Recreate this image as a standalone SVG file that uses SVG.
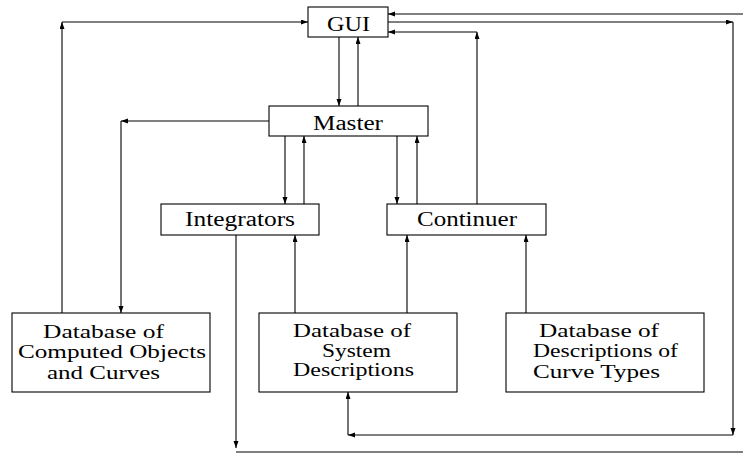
<svg xmlns="http://www.w3.org/2000/svg" width="743" height="454" viewBox="0 0 743 454">
  <defs>
    <marker id="arrow" markerUnits="userSpaceOnUse" markerWidth="8" markerHeight="6" refX="7" refY="2.5" orient="auto">
      <path d="M0,0 L7,2.5 L0,5 z" fill="#000"/>
    </marker>
  </defs>
  <style>
    rect.box { fill: #fff; stroke: #000; stroke-width: 1.1; }
    text { font-family: "Liberation Serif", "Times New Roman", serif; font-size: 20.5px; fill: #000; }
    text.db { font-size: 19px; }
    .conn line, .conn path { stroke: #000; stroke-width: 1.1; fill: none; }
    .arr { marker-end: url(#arrow); }
  </style>

  <rect width="743" height="454" fill="#fff"/>

  <!-- connectors -->
  <g id="connectors" class="conn">
    <!-- GUI / Master -->
    <line class="arr" x1="339" y1="37" x2="339" y2="106"/>
    <line class="arr" x1="358" y1="106" x2="358" y2="37"/>
    <!-- Master to computed objects database -->
    <line class="arr" x1="269" y1="121" x2="121" y2="121"/>
    <line class="arr" x1="121" y1="121" x2="121" y2="313"/>
    <!-- computed objects database to GUI -->
    <line class="arr" x1="62" y1="313" x2="62" y2="22"/>
    <line class="arr" x1="62" y1="22" x2="308" y2="22"/>
    <!-- Master / Integrators -->
    <line class="arr" x1="285" y1="136" x2="285" y2="204"/>
    <line class="arr" x1="304" y1="204" x2="304" y2="136"/>
    <!-- Master / Continuer -->
    <line class="arr" x1="397" y1="136" x2="397" y2="204"/>
    <line class="arr" x1="417" y1="204" x2="417" y2="136"/>
    <!-- Continuer to GUI -->
    <line class="arr" x1="477" y1="204" x2="477" y2="32"/>
    <line class="arr" x1="477" y1="32" x2="388" y2="32"/>
    <!-- databases feeding Integrators and Continuer -->
    <line class="arr" x1="295" y1="313" x2="295" y2="235"/>
    <line class="arr" x1="407" y1="313" x2="407" y2="235"/>
    <line class="arr" x1="526" y1="313" x2="526" y2="235"/>
    <!-- GUI to system descriptions database -->
    <line class="arr" x1="388" y1="22" x2="733" y2="22"/>
    <line class="arr" x1="733" y1="22" x2="733" y2="435"/>
    <line class="arr" x1="733" y1="435" x2="348" y2="435"/>
    <line class="arr" x1="348" y1="435" x2="348" y2="392"/>
    <!-- Integrators back to GUI around the outside -->
    <line class="arr" x1="236" y1="235" x2="236" y2="448"/>
    <line x1="236" y1="452" x2="743" y2="452"/>
    <line class="arr" x1="743" y1="14" x2="388" y2="14"/>
  </g>

  <g id="gui">
    <rect class="box" x="308" y="7" width="80" height="30"/>
    <text x="327" y="31" textLength="43" lengthAdjust="spacingAndGlyphs">GUI</text>
  </g>

  <g id="master">
    <rect class="box" x="269" y="106" width="159" height="30"/>
    <text x="313" y="130" textLength="70" lengthAdjust="spacingAndGlyphs">Master</text>
  </g>

  <g id="integrators">
    <rect class="box" x="161" y="204" width="158" height="31"/>
    <text x="185" y="226" textLength="110" lengthAdjust="spacingAndGlyphs">Integrators</text>
  </g>

  <g id="continuer">
    <rect class="box" x="387" y="204" width="159" height="31"/>
    <text x="417" y="226" textLength="100" lengthAdjust="spacingAndGlyphs">Continuer</text>
  </g>

  <g id="db-computed">
    <rect class="box" x="12" y="313" width="198" height="79"/>
    <text class="db" x="43" y="338" textLength="121" lengthAdjust="spacingAndGlyphs">Database of</text>
    <text class="db" x="18" y="358" textLength="188" lengthAdjust="spacingAndGlyphs">Computed Objects</text>
    <text class="db" x="47" y="379" textLength="113" lengthAdjust="spacingAndGlyphs">and Curves</text>
  </g>

  <g id="db-system">
    <rect class="box" x="259" y="313" width="198" height="79"/>
    <text class="db" x="293" y="337" textLength="118" lengthAdjust="spacingAndGlyphs">Database of</text>
    <text class="db" x="322" y="357" textLength="69" lengthAdjust="spacingAndGlyphs">System</text>
    <text class="db" x="293" y="376" textLength="121" lengthAdjust="spacingAndGlyphs">Descriptions</text>
  </g>

  <g id="db-curve-types">
    <rect class="box" x="506" y="313" width="198" height="79"/>
    <text class="db" x="539" y="337" textLength="120" lengthAdjust="spacingAndGlyphs">Database of</text>
    <text class="db" x="533" y="357" textLength="145" lengthAdjust="spacingAndGlyphs">Descriptions of</text>
    <text class="db" x="533" y="378" textLength="127" lengthAdjust="spacingAndGlyphs">Curve Types</text>
  </g>
</svg>
